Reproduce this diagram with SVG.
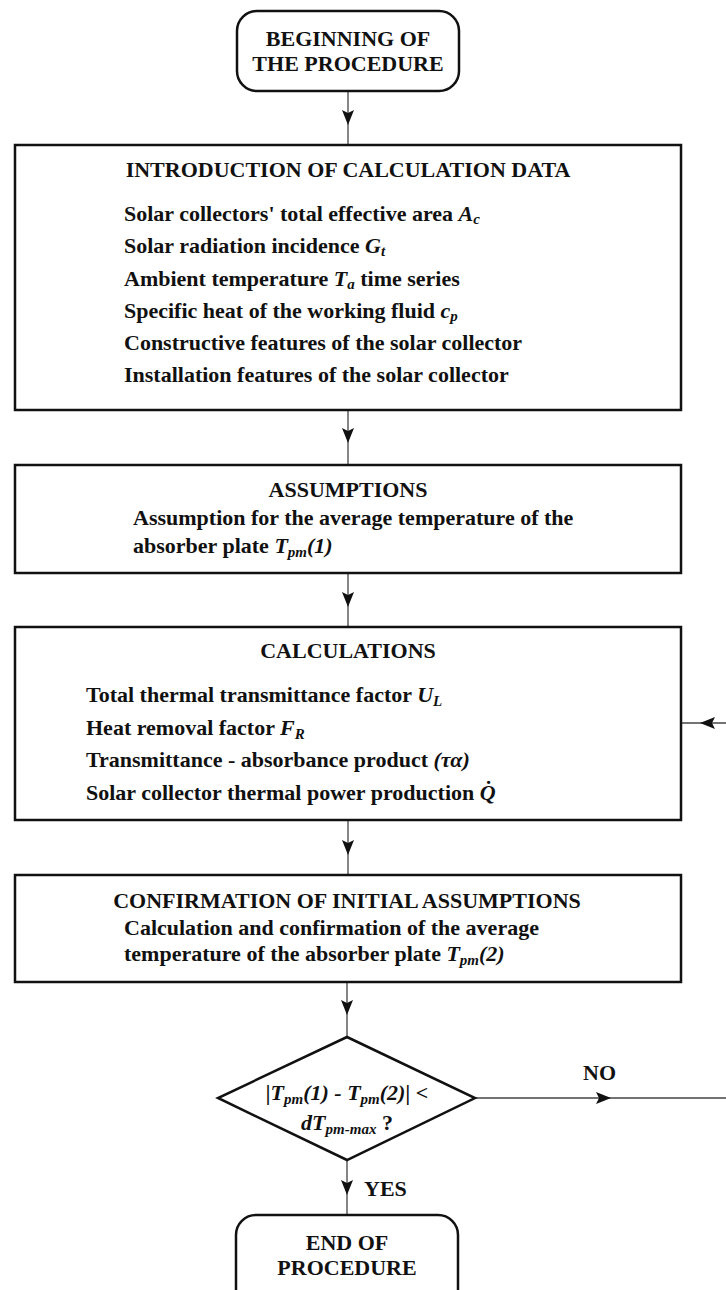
<svg xmlns="http://www.w3.org/2000/svg" width="726" height="1290" viewBox="0 0 726 1290">
<defs>
<style>
.box{fill:#fff;stroke:#111;stroke-width:2.5}
.con{fill:none;stroke:#444;stroke-width:1.3;marker-mid:url(#ah)}
text{font-family:"Liberation Serif","Times New Roman",serif;font-weight:bold;font-size:22px;fill:#111}
.c{text-anchor:middle}
.i{font-style:italic}
.s{font-size:15px;font-style:italic}
</style>
<marker id="ah" markerUnits="userSpaceOnUse" markerWidth="16" markerHeight="12" refX="15" refY="6" orient="auto">
<path d="M0,0 L15,6 L0,12 L3,6 Z" fill="#111"/>
</marker>
</defs>
<rect width="726" height="1290" fill="#fff"/>
<g id="connectors">
<polyline class="con" points="348,91 348,125 348,145"/>
<polyline class="con" points="348,410 348,443 348,465"/>
<polyline class="con" points="348,573 348,607 348,627"/>
<polyline class="con" points="348,820 348,855 348,875"/>
<polyline class="con" points="347,982 347,1015 347,1037"/>
<polyline class="con" points="475,1098 611,1098 726,1098"/>
<polyline class="con" points="347,1160 347,1195 347,1215"/>
<polyline class="con" points="726,723 700,723 681,723"/>
<text x="583" y="1080">NO</text>
<text x="364" y="1196">YES</text>
</g>
<g id="start">
<rect class="box" x="237" y="11" width="222" height="80" rx="20"/>
<text class="c" x="348" y="46">BEGINNING OF</text>
<text class="c" x="348" y="71">THE PROCEDURE</text>
</g>
<g id="intro">
<rect class="box" x="15" y="145" width="666" height="265"/>
<text class="c" x="348" y="177">INTRODUCTION OF CALCULATION DATA</text>
<text x="124" y="221">Solar collectors' total effective area <tspan class="i">A</tspan><tspan class="s" dy="3">c</tspan></text>
<text x="124" y="253">Solar radiation incidence <tspan class="i">G</tspan><tspan class="s" dy="3">t</tspan></text>
<text x="124" y="286">Ambient temperature <tspan class="i">T</tspan><tspan class="s" dy="3">a</tspan><tspan dy="-3"> time series</tspan></text>
<text x="124" y="318">Specific heat of the working fluid <tspan class="i">c</tspan><tspan class="s" dy="3">p</tspan></text>
<text x="124" y="350">Constructive features of the solar collector</text>
<text x="124" y="382">Installation features of the solar collector</text>
</g>
<g id="assumptions">
<rect class="box" x="15" y="465" width="666" height="108"/>
<text class="c" x="348" y="497">ASSUMPTIONS</text>
<text x="133" y="525">Assumption for the average temperature of the</text>
<text x="133" y="553">absorber plate <tspan class="i">T</tspan><tspan class="s" dy="4">pm</tspan><tspan class="i" dy="-4">(1)</tspan></text>
</g>
<g id="calculations">
<rect class="box" x="15" y="627" width="666" height="193"/>
<text class="c" x="348" y="658">CALCULATIONS</text>
<text x="86" y="702">Total thermal transmittance factor <tspan class="i">U</tspan><tspan class="s" dy="4">L</tspan></text>
<text x="86" y="735">Heat removal factor <tspan class="i">F</tspan><tspan class="s" dy="4">R</tspan></text>
<text x="86" y="767">Transmittance - absorbance product <tspan class="i">(τα)</tspan></text>
<text x="86" y="800">Solar collector thermal power production <tspan class="i">Q̇</tspan></text>
</g>
<g id="confirmation">
<rect class="box" x="15" y="875" width="666" height="107"/>
<text class="c" x="347" y="908">CONFIRMATION OF INITIAL ASSUMPTIONS</text>
<text x="124" y="935">Calculation and confirmation of the average</text>
<text x="124" y="961">temperature of the absorber plate <tspan class="i">T</tspan><tspan class="s" dy="4">pm</tspan><tspan class="i" dy="-4">(2)</tspan></text>
</g>
<g id="decision">
<polygon class="box" points="347,1037 475,1098 347,1160 218,1098"/>
<text class="c i" x="347" y="1100">|T<tspan class="s" dy="4">pm</tspan><tspan dy="-4">(1) - T</tspan><tspan class="s" dy="4">pm</tspan><tspan dy="-4">(2)| &lt;</tspan></text>
<text class="c" x="347" y="1130"><tspan class="i">dT</tspan><tspan class="s" dy="4">pm-max</tspan><tspan dy="-4"> ?</tspan></text>
</g>
<g id="end">
<rect class="box" x="236" y="1215" width="222" height="95" rx="20"/>
<text class="c" x="347" y="1250">END OF</text>
<text class="c" x="347" y="1275">PROCEDURE</text>
</g>
</svg>
